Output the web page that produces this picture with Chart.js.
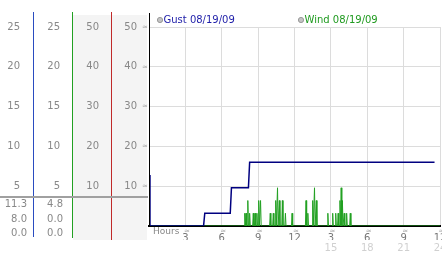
<!DOCTYPE html>
<html>
<head>
<meta charset="utf-8">
<title>Gust / Wind 08/19/09</title>
<script src="https://cdn.jsdelivr.net/npm/chart.js@4.4.1/dist/chart.umd.min.js"></script>
<style>
  html, body { margin: 0; padding: 0; background: #fff; }
  #wrap { width: 442px; height: 253px; position: relative; }
</style>
</head>
<body>
<div id="wrap"><canvas id="windChart"></canvas></div>
<script>
// Series (hours since midnight, mph)
const gustHours = [0, 0.08, 4.5, 4.6, 6.7, 6.8, 8.2, 8.3, 23.55];
const gustMph   = [6.4, 0, 0, 1.6, 1.6, 4.8, 4.8, 8.0, 8.0];

const windRange = [0, 24];
const windSpikeHours = [7.9, 8.0, 8.15, 8.3, 8.6, 8.75, 8.9, 9.05, 9.2, 10.0, 10.25, 10.45, 10.6, 10.75,
                        11.0, 11.25, 11.8, 12.95, 13.1, 13.5, 13.65, 13.8, 14.75, 15.15, 15.4, 15.6,
                        15.75, 15.85, 15.95, 16.1, 16.3, 16.6];
const windSpikeMph   = [1.6, 1.6, 3.2, 1.6, 1.6, 1.6, 1.6, 3.2, 3.2, 1.6, 1.6, 3.2, 4.8, 3.2,
                        3.2, 1.6, 1.6, 3.2, 1.6, 3.2, 4.8, 3.2, 1.6, 1.6, 1.6, 1.6,
                        3.2, 4.8, 3.2, 1.6, 1.6, 1.6];

// Labels
const legendLabels = ['Gust 08/19/09', 'Wind 08/19/09'];
const gustSummary = ['11.3', '8.0', '0.0'];
const windSummary = ['4.8', '0.0', '0.0'];
const hoursLabel = 'Hours';

Chart.defaults.font.family = 'DejaVu Sans';
Chart.defaults.font.size = 10;
Chart.defaults.color = '#888';

function fixedWidth(w) {
    return function(scale) { scale.width = w; };
}
function hideZero(v) {
    return v === 0 ? '' : String(v);
}
function gridColor(c) {
    return c.tick && c.tick.value === 0 ? 'rgba(0,0,0,0)' : '#dcdcdc';
}

// wind: a flat zero line with narrow peaks
function windPoints() {
    const pts = [{ x: windRange[0], y: 0 }];
    windSpikeHours.forEach(function(h, i) {
        pts.push({ x: h - 0.05, y: 0 }, { x: h, y: windSpikeMph[i] }, { x: h + 0.05, y: 0 });
    });
    pts.push({ x: windRange[1], y: 0 });
    return pts;
}

// decorations: column backgrounds, coloured separators, summary, legend
const decor = {
    id: 'decor',
    beforeDraw(chart) {
        const ctx = chart.ctx;
        const s = chart.scales;
        ctx.save();
        ctx.fillStyle = '#f4f4f4';
        ctx.fillRect(s.yC.left + 1, 15, s.yC.width - 1, 225);
        ctx.fillRect(s.yD.left + 1, 15, s.yD.width - 3, 225);
        ctx.restore();
    },
    afterDraw(chart) {
        const ctx = chart.ctx;
        const s = chart.scales;
        const area = chart.chartArea;
        ctx.save();

        function vline(x, y0, y1, color) {
            ctx.strokeStyle = color;
            ctx.lineWidth = 1;
            ctx.beginPath();
            ctx.moveTo(Math.round(x) - 0.5, y0);
            ctx.lineTo(Math.round(x) - 0.5, y1);
            ctx.stroke();
        }
        vline(s.yA.right + 1, 12, 237, '#2a4cc0');
        vline(s.yB.right + 1, 12, 238, '#22a022');
        vline(s.yC.right + 1, 12, 240, '#c02a2a');
        vline(area.left + 1, 13, area.bottom, '#000');

        // separator above the summary values
        ctx.fillStyle = '#a0a0a0';
        ctx.fillRect(0, 196, area.left - 1, 2);

        ctx.font = '10px "DejaVu Sans"';
        ctx.fillStyle = '#888';
        ctx.textAlign = 'right';
        ctx.textBaseline = 'middle';
        gustSummary.forEach(function(t, i) { ctx.fillText(t, s.yA.right - 6, 204.5 + i * 14.5); });
        windSummary.forEach(function(t, i) { ctx.fillText(t, s.yB.right - 9, 204.5 + i * 14.5); });

        // small break marks
        ctx.font = '7px "DejaVu Sans"';
        ctx.fillStyle = '#aaa';
        ctx.textAlign = 'center';
        s.yD.ticks.forEach(function(t) {
            if (t.value === 0) return;
            ctx.fillText('≈', s.yD.right - 4, s.yD.getPixelForValue(t.value));
        });
        s.x.ticks.forEach(function(t) {
            if (t.value === 0) return;
            ctx.fillText('≈', s.x.getPixelForValue(t.value) + 1.5, 231);
        });

        ctx.font = '9px "DejaVu Sans"';
        ctx.fillStyle = '#888';
        ctx.textAlign = 'left';
        ctx.fillText(hoursLabel, area.left + 4, 232);

        // legend
        const legendX = [area.left + 11, area.left + 152];
        const legendColors = ['#1c1ca8', '#1f9a1f'];
        legendLabels.forEach(function(label, i) {
            ctx.beginPath();
            ctx.arc(legendX[i], 20, 2.6, 0, Math.PI * 2);
            ctx.fillStyle = '#c4c4c4';
            ctx.fill();
            ctx.strokeStyle = '#999';
            ctx.lineWidth = 1;
            ctx.stroke();
            ctx.font = '10px "DejaVu Sans"';
            ctx.fillStyle = legendColors[i];
            ctx.fillText(label, legendX[i] + 3.5, 20.5);
        });
        ctx.restore();
    }
};

const chart = new Chart(document.getElementById('windChart'), {
    type: 'line',
    data: {
        datasets: [{
            label: legendLabels[0],
            data: gustHours.map(function(h, i) { return { x: h, y: gustMph[i] }; }),
            borderColor: '#000080',
            borderWidth: 1.5,
            pointRadius: 0,
            tension: 0,
            xAxisID: 'x',
            yAxisID: 'yA'
        }, {
            label: legendLabels[1],
            data: windPoints(),
            borderColor: '#22a022',
            borderWidth: 1,
            pointRadius: 0,
            tension: 0,
            xAxisID: 'x',
            yAxisID: 'yA'
        }]
    },
    options: {
        responsive: true,
        maintainAspectRatio: false,
        animation: false,
        layout: { padding: { top: 27, right: 2, left: 0, bottom: 0 } },
        plugins: {
            legend: { display: false },
            tooltip: { enabled: false }
        },
        scales: {
            x: {
                type: 'linear', position: 'bottom', weight: 1, min: 0, max: 24,
                afterFit: function(sc) { sc.height = 14; sc.paddingLeft = 0; sc.paddingRight = 0; },
                ticks: {
                    stepSize: 3, padding: 6, color: '#777', maxRotation: 0, autoSkip: false,
                    callback: function(v) { return v === 0 ? '' : String(v > 12 ? v - 12 : v); }
                },
                grid: { color: gridColor, drawTicks: false },
                border: { color: '#000', width: 2 }
            },
            x2: {
                type: 'linear', position: 'bottom', weight: 2, min: 0, max: 24,
                afterFit: function(sc) { sc.height = 13; sc.paddingLeft = 0; sc.paddingRight = 0; },
                ticks: {
                    stepSize: 3, padding: 2, color: '#d0d0d0', maxRotation: 0, autoSkip: false,
                    callback: function(v) { return v > 12 ? String(v) : ''; }
                },
                grid: { display: false, drawTicks: false },
                border: { display: false }
            },
            yA: {
                position: 'left', weight: 4, min: 0, max: 25,
                ticks: { stepSize: 5, padding: 13, callback: hideZero },
                grid: { display: false, drawTicks: false }, border: { display: false },
                afterFit: fixedWidth(33)
            },
            yB: {
                position: 'left', weight: 3, min: 0, max: 25,
                ticks: { stepSize: 5, padding: 12, callback: hideZero },
                grid: { display: false, drawTicks: false }, border: { display: false },
                afterFit: fixedWidth(39)
            },
            yC: {
                position: 'left', weight: 2, min: 0, max: 50,
                ticks: { stepSize: 10, padding: 12, callback: hideZero },
                grid: { display: false, drawTicks: false }, border: { display: false },
                afterFit: fixedWidth(39)
            },
            yD: {
                position: 'left', weight: 1, min: 0, max: 50,
                ticks: { stepSize: 10, padding: 12, callback: hideZero },
                grid: { color: gridColor, drawTicks: false }, border: { display: false },
                afterFit: fixedWidth(38)
            }
        }
    },
    plugins: [decor]
});
</script>
</body>
</html>
